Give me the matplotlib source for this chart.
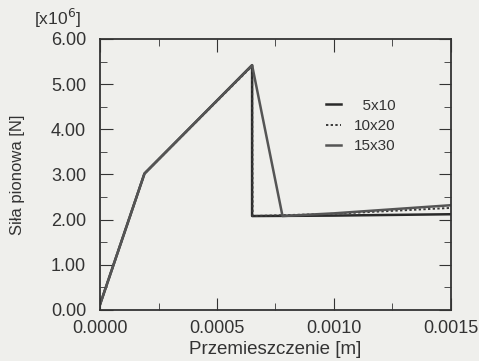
import numpy as np
import matplotlib.pyplot as plt
from matplotlib.ticker import MultipleLocator, FormatStrFormatter

plt.rcParams['font.family'] = ['Liberation Sans', 'DejaVu Sans']

# values (force in units of 10^6 N)
x_5x10 = [0.0, 0.00019, 0.00065, 0.00065, 0.0010, 0.0015]
y_5x10 = [0.12, 3.02, 5.42, 2.08, 2.09, 2.12]

x_10x20 = [0.0, 0.00019, 0.00065, 0.000652, 0.0010, 0.0015]
y_10x20 = [0.12, 3.02, 5.40, 2.08, 2.13, 2.26]

x_15x30 = [0.0, 0.00019, 0.00065, 0.00078, 0.0010, 0.0015]
y_15x30 = [0.12, 3.02, 5.42, 2.08, 2.14, 2.32]

labels = ['\u20075x10', '10x20', '15x30']

ink = '#333333'
fig = plt.figure(figsize=(4.79, 3.61), dpi=100)
fig.patch.set_facecolor('#efefec')
ax = fig.add_axes([0.2088, 0.1413, 0.7327, 0.7507])
ax.set_facecolor('#efefec')

ax.plot(x_5x10, y_5x10, color='#2a2a2a', lw=1.8, label=labels[0])
ax.plot(x_10x20, y_10x20, color='#3a3a3a', lw=1.4, ls=(0, (1.2, 1.2)), label=labels[1])
ax.plot(x_15x30, y_15x30, color='#555555', lw=1.8, label=labels[2])

ax.set_xlim(0, 0.0015)
ax.set_ylim(0, 6)
ax.xaxis.set_major_locator(MultipleLocator(0.0005))
ax.xaxis.set_minor_locator(MultipleLocator(0.00025))
ax.yaxis.set_major_locator(MultipleLocator(1))
ax.yaxis.set_minor_locator(MultipleLocator(0.5))
ax.xaxis.set_major_formatter(FormatStrFormatter('%.4f'))
ax.yaxis.set_major_formatter(FormatStrFormatter('%.2f'))
ax.tick_params(which='both', direction='in', top=True, right=True, color=ink)
ax.tick_params(which='major', length=9, labelsize=13, colors=ink)
ax.tick_params(axis='x', which='major', pad=7)
ax.tick_params(axis='y', which='major', pad=10)
ax.tick_params(which='minor', length=5)
for s in ax.spines.values():
    s.set_color(ink)
    s.set_linewidth(1.3)

ax.set_xlabel('Przemieszczenie [m]', fontsize=13.5, color=ink, labelpad=3)
ax.set_ylabel('Siła pionowa [N]', fontsize=12, color=ink)
ax.yaxis.set_label_coords(-0.215, 0.5)
fig.text(0.072, 0.932, r'[x10$^6$]', fontsize=12.5, color=ink)

leg = ax.legend(loc='upper left', bbox_to_anchor=(0.605, 0.83), frameon=False,
                handlelength=1.0, handletextpad=0.8, labelspacing=0.4, fontsize=11)
for t in leg.get_texts():
    t.set_color(ink)

fig.savefig('out.png', dpi=100, facecolor=fig.get_facecolor())
